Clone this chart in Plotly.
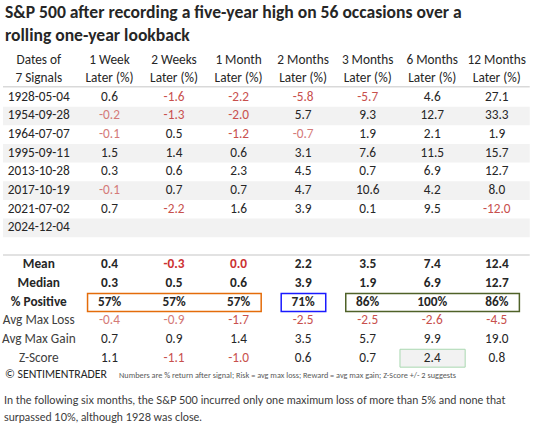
import plotly.graph_objects as go
import numpy as np

# ---------------- data ----------------
title_lines = ["S&P 500 after recording a five-year high on 56 occasions over a",
               "rolling one-year lookback"]
dates = ["1928-05-04", "1954-09-28", "1964-07-07", "1995-09-11",
         "2013-10-28", "2017-10-19", "2021-07-02", "2024-12-04"]
horizons = ["1 Week", "2 Weeks", "1 Month", "2 Months", "3 Months", "6 Months", "12 Months"]
ret_1w = [0.6, -0.2, -0.1, 1.5, 0.3, -0.1, 0.7]
ret_2w = [-1.6, -1.3, 0.5, 1.4, 0.6, 0.7, -2.2]
ret_1m = [-2.2, -2.0, -1.2, 0.6, 2.3, 0.7, 1.6]
ret_2m = [-5.8, 5.7, -0.7, 3.1, 4.5, 4.7, 3.9]
ret_3m = [-5.7, 9.3, 1.9, 7.6, 0.7, 10.6, 0.1]
ret_6m = [4.6, 12.7, 2.1, 11.5, 6.9, 4.2, 9.5]
ret_12m = [27.1, 33.3, 1.9, 15.7, 12.7, 8.0, -12.0]
avg_max_loss = [-0.4, -0.9, -1.7, -2.5, -2.5, -2.6, -4.5]
avg_max_gain = [0.7, 0.9, 1.4, 3.5, 5.7, 9.9, 19.0]
z_score = [1.1, -1.1, -1.0, 0.6, 0.7, 2.4, 0.8]
stat_labels = ["Mean", "Median", "% Positive", "Avg Max Loss", "Avg Max Gain", "Z-Score"]
footer_brand = "© SENTIMENTRADER"
footer_note = "Numbers are % return after signal; Risk = avg max loss; Reward = avg max gain; Z-Score +/- 2 suggests"
comment_lines = ["In the following six months, the S&P 500 incurred only one maximum loss of more than 5% and none that",
                 "surpassed 10%, although 1928 was close."]

returns = [ret_1w, ret_2w, ret_1m, ret_2m, ret_3m, ret_6m, ret_12m]

# ---------------- styling / layout helpers ----------------
FONT = "Carlito, Calibri, Lato, sans-serif"
CFONT = "Lato, sans-serif"
DARK = "#262626"
GRAY = "#404040"
RED = "#c8504d"
RED_LIGHT = "#d47a78"
RED_BOLD = "#cc3333"
FS = 13.3

W, H = 537, 424
COL_STEP = 64.55
COL1_PX = 109.5
ROW_STEP = 18.65
ROW0_PX = 97.3
x_range = [1 - COL1_PX / COL_STEP, 1 + (W - COL1_PX) / COL_STEP]
y_range = [(H - ROW0_PX) / ROW_STEP, -ROW0_PX / ROW_STEP]


def px_x(p):
    return p / W


def px_y(p):
    return 1 - p / H


label_x = -0.095
table_left, table_right = -0.65, 7.51
first_stat_row = len(dates) + 1


def fmt(v):
    s = f"{v:.1f}"
    return "0.0" if s == "-0.0" else s


def color_for(v, bold=False):
    if v < 0:
        if bold:
            return RED_BOLD
        return RED_LIGHT if abs(v) < 1 else RED
    return DARK


fig = go.Figure()

# header
hx, hy1, hy2, htxt1, htxt2 = [label_x], [-1.95], [-0.98], ["Dates of"], [f"{len(dates)-1} Signals"]
for i, h in enumerate(horizons):
    hx.append(i + 1)
    hy1.append(-1.95)
    hy2.append(-0.98)
    htxt1.append(h)
    htxt2.append("Later (%)")
fig.add_trace(go.Scatter(x=hx + hx, y=hy1 + hy2, text=htxt1 + htxt2, mode="text",
                         textfont=dict(family=FONT, size=FS, color=DARK), hoverinfo="skip"))

# date labels
fig.add_trace(go.Scatter(x=[label_x] * len(dates), y=list(range(len(dates))), text=dates,
                         mode="text", textfont=dict(family=FONT, size=FS, color=DARK), hoverinfo="skip"))

# data cells
nx, ny, nt, nc = [], [], [], []
bx, by, bt, bc = [], [], [], []
for ci, col in enumerate(returns):
    c = ci + 1
    for r, v in enumerate(col):
        nx.append(c); ny.append(r); nt.append(fmt(v)); nc.append(color_for(v))
    arr = np.array(col)
    mean, med = arr.mean(), np.median(arr)
    pos = (arr > 0).mean() * 100
    r0 = first_stat_row
    bx += [c, c, c]
    by += [r0, r0 + 1, r0 + 2]
    bt += [fmt(mean), fmt(med), f"{pos:.0f}%"]
    bc += [color_for(mean, True), color_for(med, True), DARK]
    for k, arr2 in enumerate([avg_max_loss, avg_max_gain, z_score]):
        v = arr2[ci]
        nx.append(c); ny.append(r0 + 3 + k); nt.append(fmt(v)); nc.append(color_for(v))

fig.add_trace(go.Scatter(x=nx, y=ny, text=nt, mode="text",
                         textfont=dict(family=FONT, size=FS, color=nc), hoverinfo="skip"))
fig.add_trace(go.Scatter(x=bx, y=by, text=[f"<b>{t}</b>" for t in bt], mode="text",
                         textfont=dict(family=FONT, size=FS, color=bc), hoverinfo="skip"))

# stat labels
sl_text = [f"<b>{s}</b>" if i < 3 else s for i, s in enumerate(stat_labels)]
sl_col = [DARK if i < 3 else GRAY for i in range(len(stat_labels))]
fig.add_trace(go.Scatter(x=[label_x] * len(stat_labels),
                         y=[first_stat_row + i for i in range(len(stat_labels))],
                         text=sl_text, mode="text",
                         textfont=dict(family=FONT, size=FS, color=sl_col), hoverinfo="skip"))

shapes = []
# stripes
for r in range(1, len(dates), 2):
    shapes.append(dict(type="rect", xref="x", yref="y", x0=table_left, x1=table_right,
                       y0=r - 0.5, y1=r + 0.5, fillcolor="#f2f2f2", line=dict(width=0), layer="below"))
# rules
for yy in [-0.57, len(dates) + 0.46]:
    shapes.append(dict(type="line", xref="x", yref="y", x0=table_left, x1=table_right,
                       y0=yy, y1=yy, line=dict(color="#d9d9d9", width=1.5)))
# highlight boxes on % Positive row
pr = first_stat_row + 2
for c0, c1, colr in [(1, 3, "#e46c0a"), (4, 4, "#1a1aff"), (5, 7, "#4f6228")]:
    shapes.append(dict(type="rect", xref="x", yref="y", x0=c0 - 0.34, x1=c1 + 0.35,
                       y0=pr - 0.48, y1=pr + 0.48, line=dict(color=colr, width=1.5)))
# z-score highlight
zr = first_stat_row + 5
shapes.append(dict(type="rect", xref="x", yref="y", x0=6 - 0.5, x1=6 + 0.51,
                   y0=zr - 0.49, y1=zr + 0.47, fillcolor="#f2f2f2",
                   line=dict(color="#a9d8b0", width=1), layer="below"))

annotations = [
    dict(xref="paper", yref="paper", x=px_x(3), y=px_y(12.5), xanchor="left", yanchor="middle",
         text=f"<b>{title_lines[0]}</b>", showarrow=False,
         font=dict(family=FONT, size=17.6, color=DARK)),
    dict(xref="paper", yref="paper", x=px_x(3), y=px_y(34.5), xanchor="left", yanchor="middle",
         text=f"<b>{title_lines[1]}</b>", showarrow=False,
         font=dict(family=FONT, size=17.6, color=DARK)),
    dict(xref="paper", yref="paper", x=px_x(3), y=px_y(374), xanchor="left", yanchor="middle",
         text=footer_brand, showarrow=False, font=dict(family=FONT, size=11.8, color=DARK)),
    dict(xref="paper", yref="paper", x=px_x(117), y=px_y(375), xanchor="left", yanchor="middle",
         text=footer_note, showarrow=False, font=dict(family=FONT, size=8.25, color="#595959")),
    dict(xref="paper", yref="paper", x=px_x(2), y=px_y(399.5), xanchor="left", yanchor="middle",
         text=comment_lines[0], showarrow=False, font=dict(family=CFONT, size=10.9, color="#3a3a3a")),
    dict(xref="paper", yref="paper", x=px_x(2), y=px_y(416.5), xanchor="left", yanchor="middle",
         text=comment_lines[1], showarrow=False, font=dict(family=CFONT, size=10.9, color="#3a3a3a")),
]

fig.update_layout(
    width=W, height=H, margin=dict(l=0, r=0, t=0, b=0),
    paper_bgcolor="white", plot_bgcolor="white", showlegend=False,
    xaxis=dict(range=x_range, visible=False, fixedrange=True),
    yaxis=dict(range=y_range, visible=False, fixedrange=True),
    shapes=shapes, annotations=annotations,
)

fig.write_html("out.html", config={"displayModeBar": False},
               post_script="document.body.style.margin='0';")
